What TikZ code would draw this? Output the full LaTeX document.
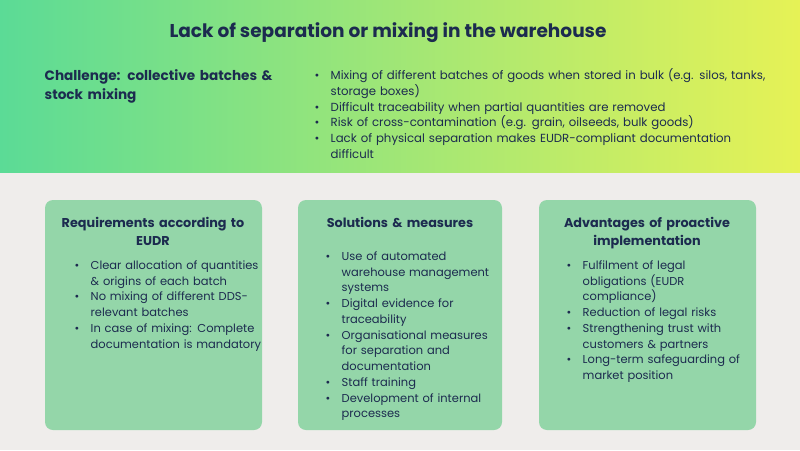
\documentclass[tikz,border=0pt]{standalone}
\usepackage{fontspec}
\setmainfont{Poppins}
\usetikzlibrary{positioning}
\definecolor{navy}{HTML}{1C2B4F}
\definecolor{gleft}{HTML}{5BDB96}
\definecolor{gright}{HTML}{E6F256}
\definecolor{paper}{HTML}{EFEDEB}
\definecolor{boxgreen}{HTML}{94D6A9}
\newcommand{\nohyph}{\hyphenpenalty=10000\exhyphenpenalty=10000\relax}
\tikzset{
  panel/.style = {fill = boxgreen, rounded corners = 6pt},
  paneltitle/.style = {font = \fontsize{9.6}{13.5}\selectfont\bfseries, text = navy, align = center, text width = 150pt},
  panellist/.style = {font = \fontsize{8.6}{11.8}\selectfont, text = navy, align = left, text width = 136pt, anchor = north west},
}
\newcommand{\pitem}[1]{\nohyph\hangindent=12pt\hangafter=1\makebox[12pt][l]{\textbullet}#1\par}
\begin{document}
\begin{tikzpicture}[x=0.75pt, y=-0.75pt]
\useasboundingbox (0,0) rectangle (800,450);
\fill[paper] (0,0) rectangle (800,450);
\shade[left color = gleft, right color = gright] (0,0) rectangle (800,172);
\node[font = \fontsize{13.9}{15}\selectfont\bfseries, text = navy] (title) at (388,33) {Lack of separation or mixing in the warehouse};
\node[font = \fontsize{10.2}{14}\selectfont\bfseries, text = navy, align = left, text width = 180pt, anchor = north west] (challenge) at (40,65) {Challenge: collective batches \&\\ stock mixing};
\node[font = \fontsize{8.8}{11.8}\selectfont, text = navy, align = left, text width = 340pt, anchor = north west] (issues) at (310,64) {%
\pitem{Mixing of different batches of goods when stored in bulk (e.g. silos, tanks, storage boxes)}
\pitem{Difficult traceability when partial quantities are removed}
\pitem{Risk of cross-contamination (e.g. grain, oilseeds, bulk goods)}
\pitem{Lack of physical separation makes EUDR-compliant documentation difficult}};
% panels
\fill[panel] (45,200) rectangle (262,430);
\fill[panel] (298,200) rectangle (502,430);
\fill[panel] (539,200) rectangle (756,430);
\node[paneltitle, anchor = north] (reqtitle) at (153,213) {Requirements according to\\ EUDR};
\node[panellist, text width = 144pt] (reqlist) at (70,256) {%
\pitem{Clear allocation of quantities \& origins of each batch}
\pitem{No mixing of different DDS-\allowbreak relevant batches}
\pitem{In case of mixing: Complete documentation is mandatory}};
\node[paneltitle, anchor = north] (soltitle) at (400,213) {Solutions \& measures};
\node[panellist] (sollist) at (321,247) {%
\pitem{Use of automated warehouse management systems}
\pitem{Digital evidence for traceability}
\pitem{Organisational measures for separation and documentation}
\pitem{Staff training}
\pitem{Development of internal processes}};
\node[paneltitle, anchor = north] (advtitle) at (647,213) {Advantages of proactive\\ implementation};
\node[panellist] (advlist) at (562,256) {%
\pitem{Fulfilment of legal obligations (EUDR compliance)}
\pitem{Reduction of legal risks}
\pitem{Strengthening trust with customers \& partners}
\pitem{Long-term safeguarding of market position}};
\end{tikzpicture}
\end{document}
